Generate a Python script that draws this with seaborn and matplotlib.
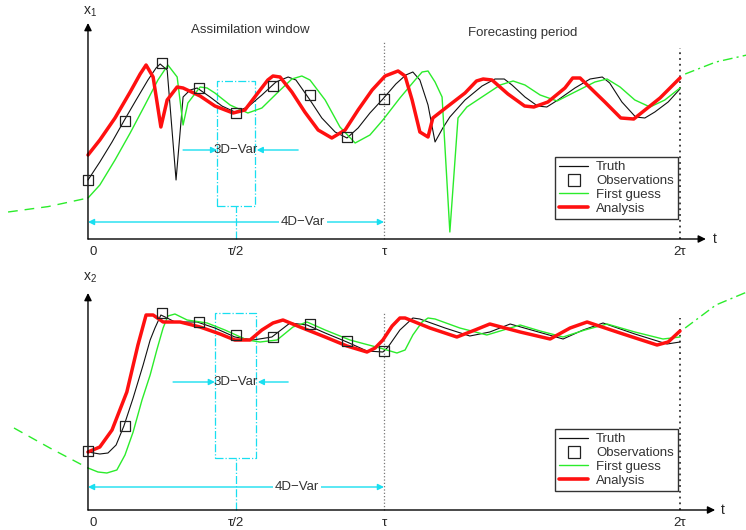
import matplotlib
matplotlib.use("Agg")
import matplotlib.pyplot as plt
import seaborn as sns
from matplotlib.lines import Line2D

sns.set_style("white")
plt.rcParams["font.family"] = ["Liberation Sans", "DejaVu Sans"]

TAU = 8  # one observation every tau/8

# ---------------- x1 (top panel) ----------------
t_truth_1 = [0, 0.32, 0.65, 0.97, 1.30, 1.62, 1.84, 1.95, 2.14, 2.38, 2.57, 2.76, 2.95,
             3.30, 3.62, 3.97, 4.32, 4.70, 5.08, 5.41, 5.62, 6.0, 6.32, 6.68, 7.0,
             7.30, 7.62, 7.97, 8.32, 8.59, 8.78, 8.97, 9.19, 9.38, 9.59, 9.78, 10.19,
             10.65, 11.0, 11.25, 11.46, 11.81, 12.15, 12.40, 12.70, 13.16, 13.57, 13.90,
             14.10, 14.43, 14.80, 15.05, 15.32, 15.68, 16.0]
x1_truth = [2.95, 3.85, 4.85, 5.9, 6.95, 7.95, 8.55, 8.75, 8.45, 2.95, 7.1, 7.45, 7.55,
            7.1, 6.65, 6.35, 6.6, 7.2, 7.85, 8.1, 7.95, 6.95, 6.05, 5.35, 5.05,
            5.55, 6.3, 7.0, 7.75, 8.2, 8.35, 7.95, 6.7, 4.85, 5.55, 6.1, 6.95,
            7.65, 8.0, 8.0, 7.7, 7.1, 6.65, 6.6, 6.95, 7.55, 8.0, 8.1,
            7.8, 6.85, 6.1, 6.05, 6.35, 6.85, 7.5]

t_anal_1 = [0, 0.32, 0.73, 1.14, 1.41, 1.57, 1.76, 1.97, 2.14, 2.41, 2.57, 3.03, 3.43,
            3.92, 4.24, 4.59, 4.86, 5.0, 5.19, 5.51, 5.86, 6.22, 6.59, 6.95, 7.30,
            7.68, 8.03, 8.38, 8.57, 8.76, 8.97, 9.19, 9.32, 9.70, 10.19, 10.50, 10.68,
            10.92, 11.35, 11.80, 12.05, 12.43, 12.89, 13.10, 13.30, 13.97, 14.40, 14.75,
            15.46, 16.0]
x1_anal = [4.2, 4.95, 6.05, 7.35, 8.25, 8.7, 8.1, 5.6, 6.95, 7.6, 7.55, 7.15, 6.65,
           6.3, 6.45, 7.3, 7.95, 8.15, 8.1, 7.35, 6.35, 5.45, 5.05, 5.45, 6.45,
           7.45, 8.15, 8.4, 8.15, 6.95, 5.35, 5.1, 6.05, 6.6, 7.3, 7.9, 8.0,
           7.95, 7.25, 6.65, 6.6, 6.85, 7.55, 8.05, 8.05, 6.85, 6.05, 6.0,
           7.05, 8.05]

t_guess_1 = [0, 0.32, 0.73, 1.14, 1.54, 1.89, 2.16, 2.41, 2.57, 2.70, 3.03, 3.22, 3.43,
             3.84, 4.32, 4.70, 5.14, 5.51, 5.78, 6.0, 6.41, 6.81, 7.22, 7.62, 7.97,
             8.43, 8.84, 9.03, 9.19, 9.38, 9.57, 9.78, 10.0, 10.24, 10.73, 11.14,
             11.49, 11.81, 12.22, 12.68, 13.16, 13.70, 14.03, 14.38, 14.78, 15.19,
             15.59, 16.0]
x1_guess = [2.05, 2.7, 3.95, 5.3, 6.7, 7.95, 8.7, 8.1, 5.7, 6.8, 7.6, 7.55, 7.3,
            6.7, 6.3, 6.55, 7.35, 8.0, 8.15, 7.95, 6.95, 5.6, 4.8, 5.2, 5.95,
            7.05, 7.95, 8.35, 8.4, 7.85, 7.1, 0.35, 6.05, 6.6, 7.2, 7.7,
            7.9, 7.7, 7.2, 6.9, 7.35, 7.85, 8.0, 7.6, 6.95, 6.6,
            6.95, 7.55]

t_guess_before_1 = [-2.16, -1.08, 0]
x1_guess_before = [1.35, 1.62, 2.05]
t_guess_after_1 = [16.14, 16.97, 17.81]
x1_guess_after = [8.25, 8.85, 9.2]

t_obs = [0, 1, 2, 3, 4, 5, 6, 7, 8]
x1_obs = [2.95, 5.9, 8.8, 7.55, 6.3, 7.65, 7.2, 5.1, 7.0]

# ---------------- x2 (bottom panel) ----------------
t_truth_2 = [0, 0.32, 0.54, 0.76, 0.97, 1.22, 1.49, 1.68, 1.81, 1.97, 2.14, 2.35, 2.95,
             3.43, 3.97, 4.46, 4.97, 5.46, 5.92, 6.41, 7.0, 7.54, 7.97, 8.11, 8.43,
             8.78, 8.97, 9.65, 10.32, 10.86, 11.41, 12.08, 12.84, 13.38, 13.92,
             14.78, 15.65, 16.0]
x2_truth = [2.9, 2.8, 2.85, 3.25, 4.2, 5.6, 7.25, 8.5, 9.1, 9.75, 9.6, 9.4, 9.4,
            9.1, 8.65, 8.5, 8.65, 9.35, 9.25, 8.85, 8.4, 7.95, 7.9, 8.15, 9.0,
            9.6, 9.55, 9.1, 8.7, 8.9, 9.3, 8.95, 8.55, 9.0, 9.35,
            8.8, 8.3, 8.4]

t_anal_2 = [0, 0.32, 0.65, 1.05, 1.35, 1.57, 1.76, 2.03, 2.49, 3.03, 3.57, 3.97, 4.38,
            4.70, 5.0, 5.27, 5.73, 6.41, 7.0, 7.54, 7.76, 7.97, 8.22, 8.43, 8.57,
            9.24, 9.97, 10.46, 10.86, 11.68, 12.49, 13.03, 13.49, 14.38, 15.38,
            15.68, 16.0]
x2_anal = [2.9, 3.15, 4.0, 5.9, 8.25, 9.75, 9.75, 9.4, 9.4, 9.15, 8.8, 8.5, 8.5,
           9.0, 9.35, 9.5, 9.15, 8.65, 8.2, 7.9, 8.1, 8.5, 9.2, 9.6, 9.6,
           9.1, 8.65, 9.0, 9.3, 8.9, 8.55, 9.1, 9.4, 8.85, 8.25,
           8.4, 8.95]

t_guess_2 = [0, 0.27, 0.51, 0.78, 1.0, 1.22, 1.46, 1.68, 1.86, 2.03, 2.16, 2.35, 2.68,
             3.22, 3.70, 4.30, 4.65, 5.11, 5.54, 5.92, 6.41, 7.08, 7.89, 8.35, 8.57,
             8.78, 9.03, 9.19, 9.38, 10.05, 10.78, 11.14, 11.68, 12.22, 12.84,
             13.43, 14.03, 14.78, 15.54, 16.0]
x2_guess = [2.1, 1.9, 1.85, 2.0, 2.75, 3.9, 5.5, 6.75, 8.0, 9.1, 9.7, 9.8, 9.5,
            9.35, 9.0, 8.5, 8.4, 8.5, 9.15, 9.4, 9.0, 8.5, 8.1, 7.85, 8.0,
            8.75, 9.4, 9.6, 9.55, 9.1, 8.75, 8.95, 9.25, 8.95, 8.65,
            9.0, 9.3, 8.9, 8.55, 8.65]

t_guess_before_2 = [-2.0, -1.03, 0]
x2_guess_before = [4.1, 3.1, 2.1]
t_guess_after_2 = [16.14, 16.97, 17.81]
x2_guess_after = [9.1, 10.25, 10.9]

x2_obs = [2.95, 4.2, 9.85, 9.4, 8.75, 8.65, 9.3, 8.45, 7.95]

legend_labels = ["Truth", "Observations", "First guess", "Analysis"]

C_TRUTH = "#111111"
C_GUESS = "#2bec2b"
C_ANAL = "#ff1010"
C_CYAN = "#19dff0"
FS = 9.5

fig = plt.figure(figsize=(7.46, 5.30), dpi=100)
ax_top = fig.add_axes([0, 0.5, 1, 0.5])
ax_bot = fig.add_axes([0, 0, 1, 0.5])


def arrow(ax, x0, y0, x1, y1, color, style="-|>", lw=1.0, ms=10):
    ax.annotate("", xy=(x1, y1), xytext=(x0, y0),
                arrowprops=dict(arrowstyle=style, color=color, lw=lw,
                                mutation_scale=ms, shrinkA=0, shrinkB=0))


def panel(ax, ylim, label, tt, yt, ta, ya, tg, yg, tb, yb, tf, yf, yo,
          tip_x, tip_y, lab_dy, tau_top, tau2_top, box, var3_y, var4_y, var4_tx,
          t_lab_x, leg_top):
    ax.set_xlim(-2.378, 17.784)
    ax.set_ylim(*ylim)
    ax.set_axis_off()

    # axes with arrows
    arrow(ax, 0, 0, tip_x, 0, "black", lw=1.0, ms=11)
    arrow(ax, 0, 0, 0, tip_y, "black", lw=1.0, ms=11)
    ax.text(t_lab_x, 0, "t", fontsize=FS + 0.5, ha="left", va="center")
    ax.text(0.05, tip_y + lab_dy, label, fontsize=FS + 0.5, ha="center", va="center")
    ax.text(0.05, -0.65, "0", fontsize=FS, ha="left", va="center")
    ax.text(TAU / 2, -0.65, "τ/2", fontsize=FS, ha="center", va="center")
    ax.text(TAU, -0.65, "τ", fontsize=FS, ha="center", va="center")
    ax.text(2 * TAU, -0.65, "2τ", fontsize=FS, ha="center", va="center")

    # dotted separators at tau and 2 tau
    ax.plot([TAU, TAU], [0, tau_top], color="#777777", ls=":", lw=0.9)
    ax.plot([2 * TAU, 2 * TAU], [0, tau2_top], color="#333333", ls=(0, (1, 2.2)), lw=1.3)

    # 3D-Var window (dash-dot box) and its centre line
    bx0, bx1, by0, by1 = box
    ax.plot([bx0, bx1, bx1, bx0, bx0], [by0, by0, by1, by1, by0],
            color=C_CYAN, ls="-.", lw=0.9)
    ax.plot([TAU / 2, TAU / 2], [0, by0], color=C_CYAN, ls="-.", lw=0.9)
    arrow(ax, var3_y[0], var3_y[2], bx0, var3_y[2], C_CYAN, lw=1.0, ms=9)
    arrow(ax, var3_y[1], var3_y[2], bx1 + 0.05, var3_y[2], C_CYAN, lw=1.0, ms=9)
    ax.text(TAU / 2, var3_y[2], "3D\u2212Var", fontsize=FS, ha="center",
            va="center", color="#333333")

    # 4D-Var window
    arrow(ax, 0, var4_y, TAU, var4_y, C_CYAN, style="<|-|>", lw=1.0, ms=9)
    ax.text(var4_tx, var4_y, "4D\u2212Var", fontsize=FS, ha="center", va="center",
            color="#333333", bbox=dict(fc="white", ec="none", pad=1.0))

    # curves
    sns.lineplot(x=tt, y=yt, ax=ax, color=C_TRUTH, lw=0.8, legend=False)
    sns.scatterplot(x=t_obs, y=yo, ax=ax, marker="s", s=60, facecolor="none",
                    edgecolor="#222222", linewidth=0.9, zorder=6, legend=False)
    sns.lineplot(x=tg, y=yg, ax=ax, color=C_GUESS, lw=1.0, legend=False)
    sns.lineplot(x=tb, y=yb, ax=ax, color=C_GUESS, lw=1.0, ls=(0, (7, 5)), legend=False)
    sns.lineplot(x=tf, y=yf, ax=ax, color=C_GUESS, lw=1.0, ls=(0, (7, 3, 1.5, 3)),
                 legend=False)
    sns.lineplot(x=ta, y=ya, ax=ax, color=C_ANAL, lw=2.5, legend=False)

    handles = [Line2D([], [], color=C_TRUTH, lw=0.9),
               Line2D([], [], marker="s", ls="", mfc="none", mec="#222222", ms=8, mew=0.9),
               Line2D([], [], color=C_GUESS, lw=1.0),
               Line2D([], [], color=C_ANAL, lw=2.6)]
    leg = ax.legend(handles, legend_labels, loc="upper right",
                    bbox_to_anchor=(678 / 746, leg_top),
                    borderaxespad=0, fontsize=FS, frameon=True, fancybox=False,
                    framealpha=1, edgecolor="#333333", handlelength=2.2,
                    handletextpad=0.6, labelspacing=0.12, borderpad=0.32)
    leg.get_frame().set_linewidth(1.0)
    for txt in leg.get_texts():
        txt.set_color("#333333")


panel(ax_top, (-1.3, 11.95), r"$\mathregular{x_1}$",
      t_truth_1, x1_truth, t_anal_1, x1_anal, t_guess_1, x1_guess,
      t_guess_before_1, x1_guess_before, t_guess_after_1, x1_guess_after, x1_obs,
      tip_x=16.7, tip_y=10.8, lab_dy=0.55, tau_top=9.85, tau2_top=9.55,
      box=(3.49, 4.51, 1.65, 7.9), var3_y=(2.57, 5.68, 4.45),
      var4_y=0.85, var4_tx=5.81, t_lab_x=16.9, leg_top=(265 - 157) / 265)
ax_top.text(4.38, 10.45, "Assimilation window", fontsize=FS, ha="center",
            va="center", color="#333333")
ax_top.text(11.76, 10.3, "Forecasting period", fontsize=FS, ha="center",
            va="center", color="#333333")

panel(ax_bot, (-1.0, 12.25), r"$\mathregular{x_2}$",
      t_truth_2, x2_truth, t_anal_2, x2_anal, t_guess_2, x2_guess,
      t_guess_before_2, x2_guess_before, t_guess_after_2, x2_guess_after, x2_obs,
      tip_x=16.95, tip_y=10.85, lab_dy=0.75, tau_top=9.9, tau2_top=9.6,
      box=(3.43, 4.54, 2.6, 9.85), var3_y=(2.3, 5.41, 6.4),
      var4_y=1.15, var4_tx=5.65, t_lab_x=17.1, leg_top=(265 - 164) / 265)

fig.savefig("out.png", dpi=100)
